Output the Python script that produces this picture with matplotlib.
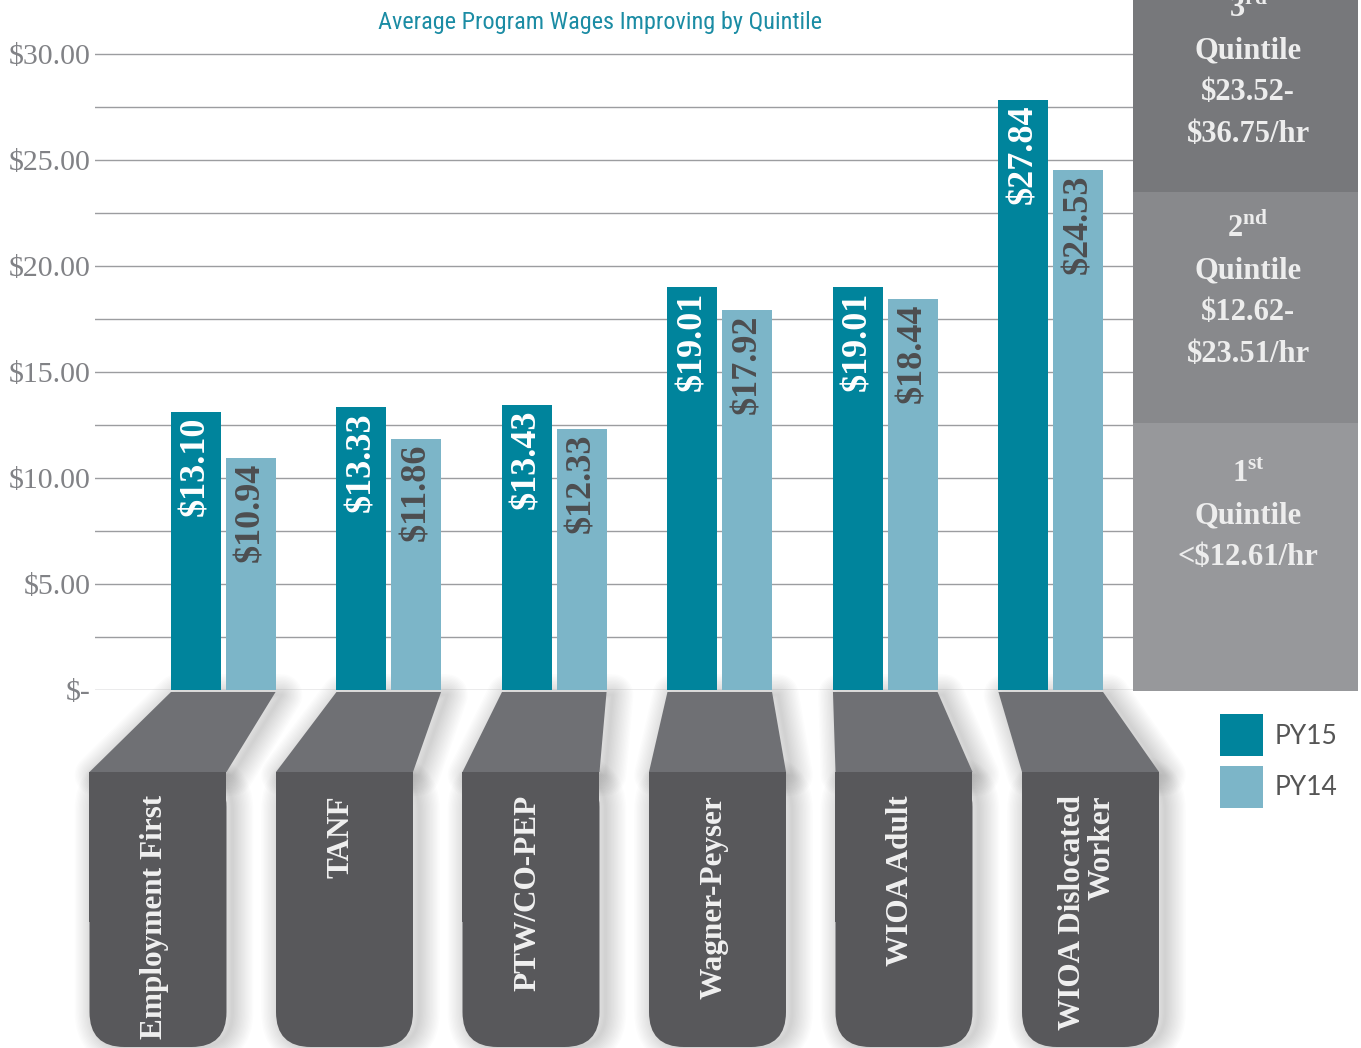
import matplotlib
matplotlib.use('Agg')
import matplotlib.pyplot as plt
from matplotlib.patches import Polygon, FancyBboxPatch, Rectangle
import numpy as np

# data
programs = ['Employment First', 'TANF', 'PTW/CO-PEP', 'Wagner-Peyser',
            'WIOA Adult', 'WIOA Dislocated\nWorker']
py15 = [13.10, 13.33, 13.43, 19.01, 19.01, 27.84]
py14 = [10.94, 11.86, 12.33, 17.92, 18.44, 24.53]
series_names = ['PY15', 'PY14']
yticks = [0, 5, 10, 15, 20, 25, 30]
ytick_labels = ['$-', '$5.00', '$10.00', '$15.00', '$20.00', '$25.00', '$30.00']

quintile_rank = ['1', '2', '3']
quintile_suffix = ['st', 'nd', 'rd']
quintile_lo = [0.0, 12.62, 23.52]
quintile_hi = [12.61, 23.51, 36.75]
quintile_range = ['<$12.61/hr', '$12.62-\n$23.51/hr', '$23.52-\n$36.75/hr']
title = 'Average Program Wages Improving by Quintile'


def esc(s):
    return s.replace('$', r'\$')


W, H = 1361, 1048
PX = 21.2            # pixels per dollar
base = 690           # pixel row of $0
teal, light = '#00849c', '#7cb5c8'
band_colors = ['#97989b', '#88898c', '#77787b']

plt.rcParams['font.family'] = ['Liberation Serif', 'DejaVu Serif']
plt.rcParams['mathtext.fontset'] = 'custom'
plt.rcParams['mathtext.rm'] = 'Liberation Serif:bold'
plt.rcParams['mathtext.bf'] = 'Liberation Serif:bold'

fig = plt.figure(figsize=(W / 100, H / 100), dpi=100, facecolor='white')


def fig_box(x0, y0, x1, y1):
    # pixel box (y measured from the top) -> figure fraction rect
    return [x0 / W, 1 - y1 / H, (x1 - x0) / W, (y1 - y0) / H]


ymax = 30.6
ax = fig.add_axes(fig_box(95, base - ymax * PX, 1133, base))
ax.set_facecolor('none')
x = np.arange(len(programs))
bw, off = 0.30, 0.166
ax.set_xlim(-0.775, 5.497)
ax.set_ylim(0, ymax)

b15 = ax.bar(x - off, py15, bw, color=teal, zorder=3)
b14 = ax.bar(x + off, py14, bw, color=light, zorder=3)

for xs, vals, col in [(x - off, py15, 'white'), (x + off, py14, '#4d4e50')]:
    for xi, v in zip(xs, vals):
        ax.text(xi, v - 0.22, esc('$%.2f' % v), rotation=90, ha='center',
                va='top', color=col, fontsize=26, fontweight='bold', zorder=4)

ax.set_yticks(yticks)
ax.set_yticklabels([esc(t) for t in ytick_labels])
ax.set_yticks(np.arange(2.5, 30, 5), minor=True)
ax.grid(axis='y', which='both', color='#9c9da0', lw=1.0)
ax.set_axisbelow(True)
ax.tick_params(which='both', length=0, pad=3, labelsize=21.5, labelcolor='#818286')
ax.set_xticks([])
for s in ax.spines.values():
    s.set_visible(False)

# decorative tabs under the bars, drawn in pixel coordinates
deco = fig.add_axes([0, 0, 1, 1], zorder=-1)
deco.set_xlim(0, W)
deco.set_ylim(H, 0)
deco.axis('off')

tw, t0, t1, t2 = 137, 692, 772, 1047
for i, name in enumerate(programs):
    gx0 = ax.transData.transform((x[i] - off - bw / 2, 0))[0]
    gx1 = ax.transData.transform((x[i] + off + bw / 2, 0))[0]
    tc = 158 + 186.5 * i
    trap = [(gx0, t0), (gx1, t0), (tc + tw / 2, t1), (tc - tw / 2, t1)]
    # soft shadow, offset to the lower right (stacked strokes, no fill)
    sx, sy = 6, 3
    for lw in range(30, 0, -2):
        deco.add_patch(Polygon([(px + sx, py + sy) for px, py in trap], closed=True,
                               fc='none', ec='k', lw=lw, alpha=0.012,
                               joinstyle='round'))
        deco.add_patch(FancyBboxPatch((tc - tw / 2 + sx, t1 + sy), tw, t2 - t1 - sy,
                                      boxstyle='round,pad=0,rounding_size=35',
                                      fc='none', ec='k', lw=lw, alpha=0.012))
    deco.add_patch(Polygon(trap, closed=True, fc='#6f7074', ec='none'))
    deco.add_patch(Rectangle((tc - tw / 2, t1), tw, 150, fc='#58585b', ec='none'))
    deco.add_patch(FancyBboxPatch((tc - tw / 2, t1), tw, t2 - t1,
                                  boxstyle='round,pad=0,rounding_size=35',
                                  fc='#58585b', ec='none'))
    deco.text(tc - 3, 795, name, rotation=90, ha='center', va='top',
              multialignment='right', color='#f0f0f0', fontsize=22.5,
              fontweight='bold', linespacing=1.0)

# quintile panel on the right, same dollar scale as the chart
pan = fig.add_axes(fig_box(1133, 0, 1358, base + 1))
pan.set_xlim(0, 1)
pan.set_ylim(0, (base + 1) / PX)
pan.axis('off')
edges = quintile_lo + [quintile_hi[-1]]
for k, c in enumerate(band_colors):
    pan.axhspan(edges[k], edges[k + 1], color=c, lw=0)

first_baseline = [482, 237, 17]
for k in range(3):
    lines = [r'%s$^{\mathbf{%s}}$' % (quintile_rank[k], quintile_suffix[k]), 'Quintile']
    lines += [esc(s) for s in quintile_range[k].split('\n')]
    for j, s in enumerate(lines):
        yb = first_baseline[k] + 41.7 * j
        fig.text(1248 / W, 1 - yb / H, s, ha='center', va='baseline',
                 fontsize=22, fontweight='bold', color='#ededed')

fig.text(600 / W, 1 - 23 / H, title, ha='center', va='center', color='#1b8ca4',
         fontsize=17.5,
         family=['Roboto Condensed', 'DejaVu Sans Condensed',
                 'Liberation Sans Narrow', 'Roboto'],
         fontstretch='condensed')

fig.legend(handles=[b15, b14], labels=series_names, loc='upper left',
           bbox_to_anchor=(1220 / W, 1 - 714 / H), frameon=False, borderpad=0,
           borderaxespad=0, handlelength=1.63, handleheight=2.1,
           labelspacing=0.35, handletextpad=0.45,
           prop={'family': ['Lato', 'DejaVu Sans'], 'size': 19},
           labelcolor='#555555')

fig.savefig('out.png', dpi=100)
